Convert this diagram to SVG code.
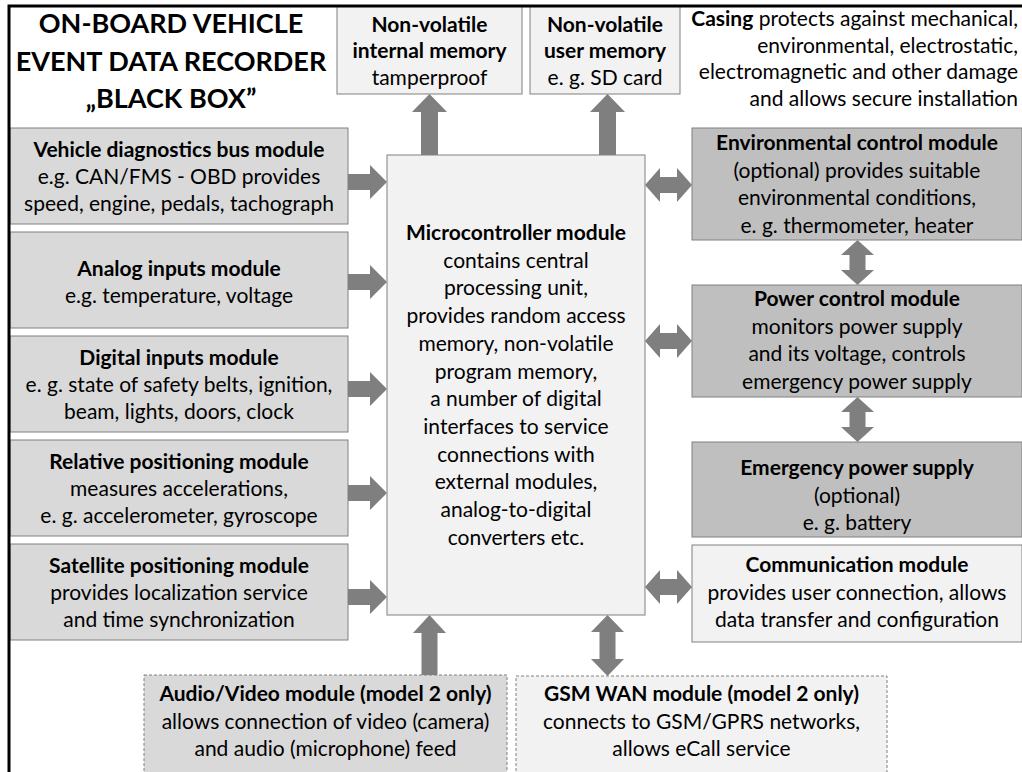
<svg xmlns="http://www.w3.org/2000/svg" width="1022" height="772" viewBox="0 0 1022 772">
<style>
text{font-family:Lato,"Open Sans","Liberation Sans",sans-serif;font-size:21px;fill:#000;text-anchor:middle}
.b{font-weight:bold}
.t{font-size:27px;font-weight:bold}
.box{stroke:#808080;stroke-width:1}
.l{fill:#f2f2f2}.m{fill:#d9d9d9}.d{fill:#bfbfbf}
.dash{stroke-dasharray:3 2}
.ar{fill:#7f7f7f}
</style>
<rect x="0" y="0" width="1022" height="772" fill="#fff"/>
<g id="title">
<text class="t" x="171" y="33">ON-BOARD VEHICLE</text>
<text class="t" x="171" y="71">EVENT DATA RECORDER</text>
<text class="t" x="171" y="108">„BLACK BOX”</text>
</g>
<g id="casing">
<text x="1018" y="26" style="text-anchor:end"><tspan class="b">Casing</tspan> protects against mechanical,</text>
<text x="1018" y="52.5" style="text-anchor:end">environmental, electrostatic,</text>
<text x="1018" y="79" style="text-anchor:end">electromagnetic and other damage</text>
<text x="1018" y="105.5" style="text-anchor:end">and allows secure installation</text>
</g>
<g id="connectors">
<polygon class="ar" points="421,155 421,112 412,112 429.5,94 447,112 438,112 438,155"/>
<polygon class="ar" points="599,155 599,112 590,112 607.5,94 625,112 616,112 616,155"/>
<polygon class="ar" points="348,174 370,174 370,165 387,182 370,199 370,190 348,190"/>
<polygon class="ar" points="348,274 370,274 370,265 387,282 370,299 370,290 348,290"/>
<polygon class="ar" points="348,381 370,381 370,372 387,389 370,406 370,397 348,397"/>
<polygon class="ar" points="348,485 370,485 370,476 387,493 370,510 370,501 348,501"/>
<polygon class="ar" points="348,589 370,589 370,580 387,597 370,614 370,605 348,605"/>
<polygon class="ar" points="645,185 660,168 660,177 677,177 677,168 692,185 677,202 677,193 660,193 660,202"/>
<polygon class="ar" points="645,341 660,324 660,333 677,333 677,324 692,341 677,358 677,349 660,349 660,358"/>
<polygon class="ar" points="645,587 660,570 660,579 677,579 677,570 692,587 677,604 677,595 660,595 660,604"/>
<polygon class="ar" points="857.5,240 874,255 865.5,255 865.5,270 874,270 857.5,285 841,270 849.5,270 849.5,255 841,255"/>
<polygon class="ar" points="857.5,397 874,412 865.5,412 865.5,427 874,427 857.5,442 841,427 849.5,427 849.5,412 841,412"/>
<polygon class="ar" points="421.5,675 421.5,633 413,633 429.5,615 446,633 437.5,633 437.5,675"/>
<polygon class="ar" points="607.5,615 624,632 615.5,632 615.5,659 624,659 607.5,676 591,659 599.5,659 599.5,632 591,632"/>
</g>
<g id="mem-internal">
<rect class="box l" x="337" y="6" width="185" height="88"/>
<text class="b" x="429.5" y="32">Non-volatile</text>
<text class="b" x="429.5" y="58">internal memory</text>
<text x="429.5" y="85">tamperproof</text>
</g>
<g id="mem-user">
<rect class="box l" x="530" y="6" width="150" height="88"/>
<text class="b" x="605" y="32">Non-volatile</text>
<text class="b" x="605" y="58">user memory</text>
<text x="605" y="85">e. g. SD card</text>
</g>
<g id="vehicle-bus">
<rect class="box m" x="10" y="128" width="338" height="96"/>
<text class="b" x="179" y="157">Vehicle diagnostics bus module</text>
<text x="179" y="184">e.g. CAN/FMS - OBD provides</text>
<text x="179" y="211">speed, engine, pedals, tachograph</text>
</g>
<g id="analog">
<rect class="box m" x="10" y="232" width="338" height="96"/>
<text class="b" x="179" y="276">Analog inputs module</text>
<text x="179" y="303">e.g. temperature, voltage</text>
</g>
<g id="digital">
<rect class="box m" x="10" y="336" width="338" height="96"/>
<text class="b" x="179" y="365">Digital inputs module</text>
<text x="179" y="392">e. g. state of safety belts, ignition,</text>
<text x="179" y="419">beam, lights, doors, clock</text>
</g>
<g id="relative">
<rect class="box m" x="10" y="440" width="338" height="96"/>
<text class="b" x="179" y="469">Relative positioning module</text>
<text x="179" y="496">measures accelerations,</text>
<text x="179" y="523">e. g. accelerometer, gyroscope</text>
</g>
<g id="satellite">
<rect class="box m" x="10" y="544" width="338" height="96"/>
<text class="b" x="179" y="573">Satellite positioning module</text>
<text x="179" y="600">provides localization service</text>
<text x="179" y="627">and time synchronization</text>
</g>
<g id="micro">
<rect class="box l" x="387" y="155" width="258" height="460"/>
<text class="b" x="516" y="240">Microcontroller module</text>
<text x="516" y="267.7">contains central</text>
<text x="516" y="295.4">processing unit,</text>
<text x="516" y="323.1">provides random access</text>
<text x="516" y="350.8">memory, non-volatile</text>
<text x="516" y="378.5">program memory,</text>
<text x="516" y="406.2">a number of digital</text>
<text x="516" y="433.9">interfaces to service</text>
<text x="516" y="461.6">connections with</text>
<text x="516" y="489.3">external modules,</text>
<text x="516" y="517">analog-to-digital</text>
<text x="516" y="544.7">converters etc.</text>
</g>
<g id="environmental">
<rect class="box d" x="692" y="128" width="330" height="112"/>
<text class="b" x="857" y="150">Environmental control module</text>
<text x="857" y="178">(optional) provides suitable</text>
<text x="857" y="205">environmental conditions,</text>
<text x="857" y="233">e. g. thermometer, heater</text>
</g>
<g id="power">
<rect class="box d" x="692" y="285" width="330" height="112"/>
<text class="b" x="857" y="306">Power control module</text>
<text x="857" y="333.5">monitors power supply</text>
<text x="857" y="361">and its voltage, controls</text>
<text x="857" y="388.5">emergency power supply</text>
</g>
<g id="emergency">
<rect class="box d" x="692" y="442" width="330" height="95"/>
<text class="b" x="857" y="475">Emergency power supply</text>
<text x="857" y="502.5">(optional)</text>
<text x="857" y="530">e. g. battery</text>
</g>
<g id="communication">
<rect class="box l" x="692" y="545" width="330" height="97"/>
<text class="b" x="857" y="572">Communication module</text>
<text x="857" y="599.5">provides user connection, allows</text>
<text x="857" y="627">data transfer and configuration</text>
</g>
<g id="audio-video">
<rect class="box m dash" x="144" y="675" width="363" height="100"/>
<text class="b" x="325.5" y="701">Audio/Video module (model 2 only)</text>
<text x="325.5" y="728.5">allows connection of video (camera)</text>
<text x="325.5" y="756">and audio (microphone) feed</text>
</g>
<g id="gsm">
<rect class="box l dash" x="516" y="676" width="371" height="99"/>
<text class="b" x="701.5" y="701">GSM WAN module (model 2 only)</text>
<text x="701.5" y="728.5">connects to GSM/GPRS networks,</text>
<text x="701.5" y="756">allows eCall service</text>
</g>
<g id="casing-frame">
<rect x="9" y="6" width="1030" height="790" fill="none" stroke="#000" stroke-width="3"/>
</g>
</svg>
